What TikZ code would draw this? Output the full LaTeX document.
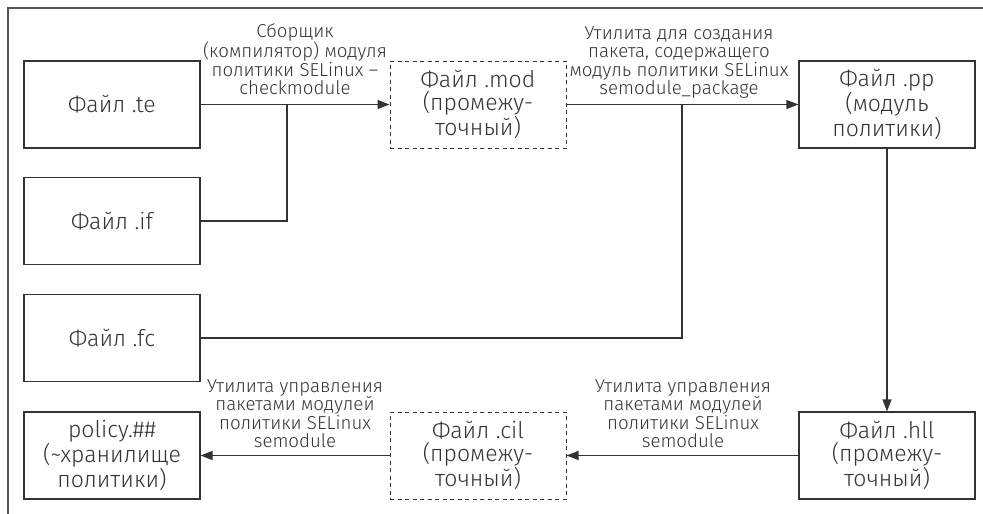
\documentclass[tikz,border=0pt]{standalone}
\usepackage{fontspec}
\setmainfont{Fira Sans}[UprightFont={* Light}]
\usetikzlibrary{arrows.meta}
\definecolor{ink}{HTML}{333333}
\definecolor{framec}{HTML}{555555}
\begin{document}
\begin{tikzpicture}[x=1pt,y=-1pt,
  box/.style={draw=ink,line width=1.1pt,rectangle,minimum width=176pt,minimum height=87pt,
    align=center,text=ink,font=\fontsize{23}{23.5}\selectfont,inner sep=2pt},
  tmpbox/.style={box,line width=1pt,dash pattern=on 4pt off 3.5pt},
  conn/.style={draw=ink,line width=1.1pt},
  arr/.style={conn,-{Triangle[length=12pt,width=9pt]}},
  lbl/.style={align=center,text=ink,font=\fontsize{18.7}{18.5}\selectfont,anchor=south,
    inner sep=0pt,text depth=0pt}]
  \useasboundingbox (0,0) rectangle (983,514);
  % page frame
  \draw[framec,line width=2pt] (8,514) -- (8,8) -- (983,8);
  % source files
  \node[box] (te) at (112,104.5) {Файл .te};
  \node[box] (if) at (112,221) {Файл .if};
  \node[box] (fc) at (112,338) {Файл .fc};
  \node[box] (store) at (112,455.5) {policy.\#\#\\(\textasciitilde хранилище\\политики)};
  % intermediate and result files
  \node[tmpbox] (mod) at (478,104.5) {Файл .mod\\(промежу-\\точный)};
  \node[box] (pp) at (887,104.5) {Файл .pp\\(модуль\\политики)};
  \node[box] (hll) at (887,455.5) {Файл .hll\\(промежу-\\точный)};
  \node[tmpbox] (cil) at (478,455.5) {Файл .cil\\(промежу-\\точный)};
  % junctions
  \coordinate (j1) at (287,104.5);
  \coordinate (j2) at (682,104.5);
  % connectors
  \draw[arr] (te) -- (mod);
  \draw[conn] (if.east) -| (j1);
  \draw[arr] (mod) -- (pp);
  \draw[conn] (fc.east) -| (j2);
  \draw[arr] (pp) -- (hll);
  \draw[arr] (hll) -- (cil);
  \draw[arr] (cil) -- (store);
  % tool labels
  \node[lbl] (l1) at (295,95) {Сборщик\\(компилятор) модуля\\политики SELinux –\\checkmodule};
  \node[lbl] (l2) at (679,95) {Утилита для создания\\пакета, содержащего\\модуль политики SELinux\\semodule\_package};
  \node[lbl] (l3) at (295,448) {Утилита управления\\пакетами модулей\\политики SELinux\\semodule};
  \node[lbl] (l4) at (683,448) {Утилита управления\\пакетами модулей\\политики SELinux\\semodule};
\end{tikzpicture}
\end{document}
